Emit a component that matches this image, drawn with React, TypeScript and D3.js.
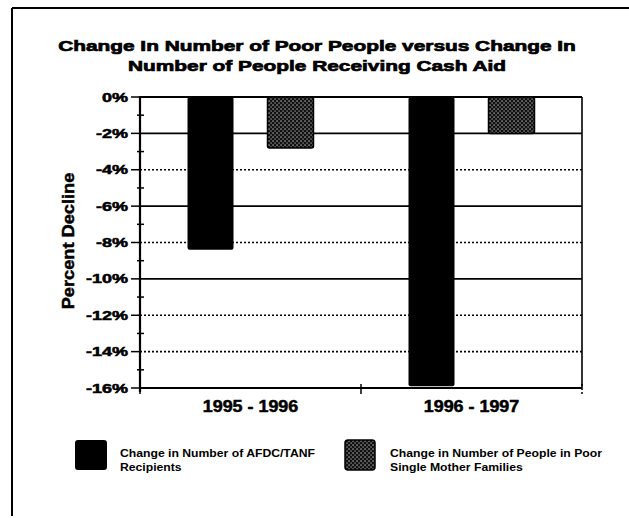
import React from "react";
import * as d3 from "d3";

const categories = ["1995 - 1996", "1996 - 1997"];
const seriesNames = ["afdc", "poor"];
const afdcValues = [-8.4, -15.9];
const poorValues = [-2.8, -2.0];
const yTickValues = [0, -2, -4, -6, -8, -10, -12, -14, -16];
const yMinorTicks = [-1, -3, -5, -7, -9, -11, -13, -15];
const solidGrid = [-2, -6, -10];
const dottedGrid = [-4, -8, -12, -14];
const titleLines = [
  "Change In Number of Poor People versus Change In",
  "Number of People Receiving Cash Aid",
];
const yTitle = "Percent Decline";
const legendLines = [
  ["Change in Number of AFDC/TANF", "Recipients"],
  ["Change in Number of People in Poor", "Single Mother Families"],
];

const W = 629;
const H = 518;
const FONT = "'Liberation Sans', Arial, Helvetica, sans-serif";

export default function App() {
  const left = 140;
  const right = 582;
  const top = 97;
  const bottom = 388;

  const y = d3.scaleLinear().domain([0, -16]).range([top, bottom]);
  const x0 = d3.scaleBand<string>().domain(categories).range([left, right]).padding(0);
  const x1 = d3
    .scaleBand<string>()
    .domain(seriesNames)
    .range([0, x0.bandwidth()])
    .paddingInner(0.425)
    .paddingOuter(0.594);

  const rows = categories.map((c, i) => ({
    cat: c,
    values: [
      { key: "afdc", v: afdcValues[i] },
      { key: "poor", v: poorValues[i] },
    ],
  }));

  const boundaries = [left, ...categories.map((c) => (x0(c) as number) + x0.bandwidth())];

  return (
    <svg
      width={W}
      height={H}
      style={{ position: "absolute", left: 0, top: 0, background: "#fff" }}
    >
      <defs>
        <pattern id="speckle" width="4" height="4" patternUnits="userSpaceOnUse">
          <rect width="4" height="4" fill="#111" />
          <rect x="0.5" y="0.5" width="1.1" height="1.1" fill="#fff" />
          <rect x="2.5" y="2.5" width="1.1" height="1.1" fill="#ccc" />
        </pattern>
      </defs>

      {/* outer frame */}
      <line x1={12} y1={8} x2={629} y2={8} stroke="#000" strokeWidth={2} />
      <line x1={12} y1={8} x2={12} y2={516} stroke="#000" strokeWidth={2} />

      {/* title */}
      {titleLines.map((t, i) => (
        <text
          key={i}
          transform={`translate(317,${51 + i * 20}) scale(1.39,1)`}
          textAnchor="middle"
          fontFamily={FONT}
          fontWeight="bold"
          fontSize={15}
          stroke="#000"
          strokeWidth={0.7}
        >
          {t}
        </text>
      ))}

      {/* gridlines */}
      {solidGrid.map((v) => (
        <line key={"s" + v} x1={left} x2={right} y1={y(v)} y2={y(v)} stroke="#000" strokeWidth={1.6} />
      ))}
      {dottedGrid.map((v) => (
        <line
          key={"d" + v}
          x1={left}
          x2={right}
          y1={y(v)}
          y2={y(v)}
          stroke="#000"
          strokeWidth={1.6}
          strokeDasharray="2,2"
        />
      ))}

      {/* plot frame */}
      <line x1={left} x2={right} y1={top} y2={top} stroke="#000" strokeWidth={2} />
      <line x1={right} x2={right} y1={top} y2={bottom} stroke="#000" strokeWidth={1.6} />
      <line x1={left} x2={right} y1={bottom} y2={bottom} stroke="#000" strokeWidth={2.2} />

      {/* bars */}
      {rows.map((r) => (
        <g key={r.cat} transform={`translate(${x0(r.cat)},0)`}>
          {r.values.map((d) => (
            <rect
              key={d.key}
              x={x1(d.key)}
              y={y(0)}
              width={x1.bandwidth()}
              height={y(d.v) - y(0)}
              rx={2}
              fill={d.key === "afdc" ? "#000" : "url(#speckle)"}
              stroke="#000"
              strokeWidth={d.key === "afdc" ? 0 : 1.5}
            />
          ))}
        </g>
      ))}

      {/* y axis */}
      <line x1={left} x2={left} y1={top - 1} y2={bottom + 4} stroke="#000" strokeWidth={2.2} />
      {yTickValues.map((v) => (
        <g key={"t" + v}>
          <line x1={left - 9} x2={left} y1={y(v)} y2={y(v)} stroke="#000" strokeWidth={1.5} />
          <text
            transform={`translate(128,${y(v) + 4.5}) scale(1.5,1)`}
            textAnchor="end"
            fontFamily={FONT}
            fontWeight="bold"
            fontSize={12}
            stroke="#000"
            strokeWidth={0.5}
          >
            {`${v}%`}
          </text>
        </g>
      ))}
      {yMinorTicks.map((v) => (
        <line key={"m" + v} x1={left - 3} x2={left + 4} y1={y(v)} y2={y(v)} stroke="#000" strokeWidth={1.5} />
      ))}

      {/* x axis ticks */}
      {boundaries.map((b, i) => (
        <line
          key={"xb" + i}
          x1={b}
          x2={b}
          y1={bottom - 4}
          y2={bottom + 6}
          stroke="#000"
          strokeWidth={1.5}
          strokeDasharray={i === boundaries.length - 1 ? "2,2" : undefined}
        />
      ))}
      {categories.map((c) => (
        <text
          key={c}
          transform={`translate(${(x0(c) as number) + x0.bandwidth() / 2},412) scale(1.12,1)`}
          textAnchor="middle"
          fontFamily={FONT}
          fontWeight="bold"
          fontSize={16}
          stroke="#000"
          strokeWidth={0.5}
        >
          {c}
        </text>
      ))}

      {/* y title */}
      <text
        transform={`translate(74,241) rotate(-90) scale(1.14,1)`}
        textAnchor="middle"
        fontFamily={FONT}
        fontWeight="bold"
        fontSize={16}
        stroke="#000"
        strokeWidth={0.5}
      >
        {yTitle}
      </text>

      {/* legend */}
      {seriesNames.map((s, i) => {
        const sx = i === 0 ? 75 : 345;
        return (
          <g key={s}>
            <rect
              x={sx}
              y={440}
              width={i === 0 ? 32 : 30}
              height={30}
              rx={3}
              fill={i === 0 ? "#000" : "url(#speckle)"}
              stroke="#000"
              strokeWidth={i === 0 ? 0 : 1.5}
            />
            {legendLines[i].map((t, j) => (
              <text
                key={j}
                transform={`translate(${sx + 45},${457 + j * 14}) scale(1.22,1)`}
                fontFamily={FONT}
                fontWeight="bold"
                fontSize={10}
              >
                {t}
              </text>
            ))}
          </g>
        );
      })}
    </svg>
  );
}
